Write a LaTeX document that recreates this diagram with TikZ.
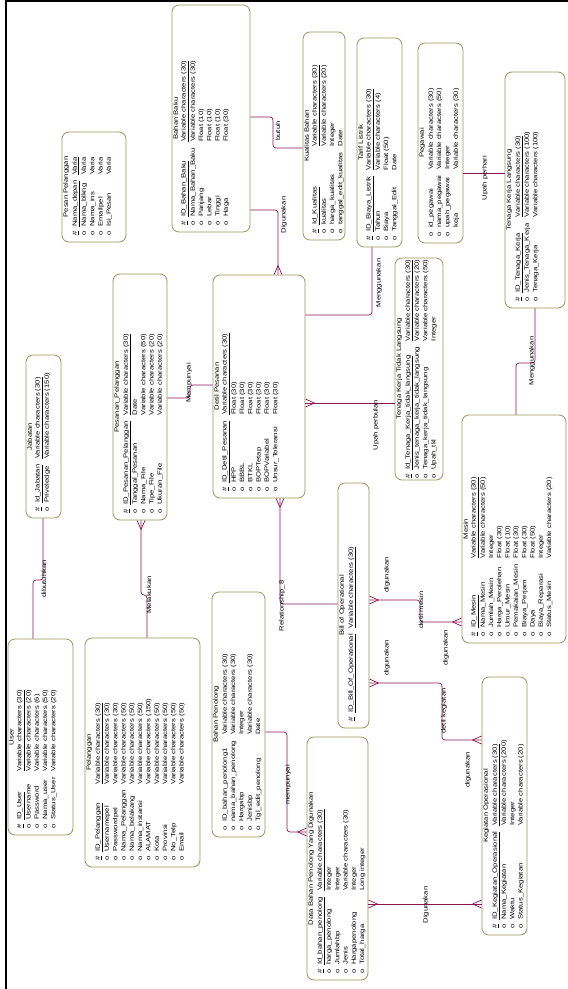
\documentclass[tikz,border=0pt]{standalone}
\usepackage{fontspec}
\newfontfamily\erfont[FakeStretch=1.24]{Liberation Sans}
\definecolor{entline}{RGB}{150,150,90}
\definecolor{rellink}{RGB}{140,20,80}
\newcommand{\enthead}[1]{{\centering #1\par}\vspace{1pt}}
\newenvironment{attrs}{\begin{tabular}{@{}l@{\hspace{4pt}}l@{\hspace{6pt}}l@{}}}{\end{tabular}}
\newcommand{\pkattr}[2]{\underline{\#} & \underline{#1} & \underline{#2}\\}
\newcommand{\attr}[2]{o & #1 & #2\\}
\newcommand{\crowfoot}[2]{\draw[rel,shift={(#1)},rotate=#2] (-9pt,0pt) -- (0pt,4pt) (-9pt,0pt) -- (0pt,-4pt);}
\begin{document}
\begin{tikzpicture}[x=1pt,y=-1pt,
    entity/.style={draw=entline,line width=0.8pt,rounded corners=7pt,fill=white,inner sep=0pt},
    enttext/.style={rotate=90,anchor=north,inner xsep=0pt,inner ysep=1.5pt,font=\erfont\fontsize{6.2}{8.3}\selectfont},
    lbl/.style={rotate=90,inner sep=0pt,font=\erfont\fontsize{6.2}{8.3}\selectfont},
    rel/.style={draw=rellink,line width=0.7pt,rounded corners=3pt}]
                \useasboundingbox (0,0) rectangle (568,989);
                \draw[line width=2pt] (6,989) -- (6,1) -- (568,1);

                \node[entity,minimum width=78pt,minimum height=227pt] (bb) at (211,118.5) {};
                \node[enttext,text width=213pt] (bb-t) at (bb.west) {\enthead{Bahan Baku}\begin{attrs}
                \pkattr{ID\_Bahan\_Baku}{Variable characters (30)}
                \attr{Nama\_Bahan\_Baku}{Variable characters (30)}
                \attr{Panjang}{Float (10)}
                \attr{Lebar}{Float (10)}
                \attr{Tinggi}{Float (10)}
                \attr{Haga}{Float (30)}
                \end{attrs}};

                \node[entity,minimum width=42pt,minimum height=208pt] (kb) at (324,136) {};
                \node[enttext,text width=194pt] (kb-t) at (kb.west) {\enthead{Kualitas Bahan}\begin{attrs}
                \pkattr{Id\_Kualitas}{Variable characters (30)}
                \attr{kualitas}{Variable characters (20)}
                \attr{harga\_kualitas}{Integer}
                \attr{tanggal\_edit\_kualitas}{Date}
                \end{attrs}};

                \node[entity,minimum width=45pt,minimum height=209pt] (tl) at (379.5,142.5) {};
                \node[enttext,text width=195pt] (tl-t) at (tl.west) {\enthead{Tarif Listrik}\begin{attrs}
                \pkattr{ID\_Biaya\_Listrik}{Variable characters (30)}
                \attr{Tahun}{Variable characters (4)}
                \attr{Biaya}{Float (50)}
                \attr{Tanggal\_Edit}{Date}
                \end{attrs}};

                \node[entity,minimum width=45pt,minimum height=200pt] (pg) at (440.5,143) {};
                \node[enttext,text width=186pt] (pg-t) at (pg.west) {\enthead{Pegawai}\begin{attrs}
                \attr{id\_pegawai}{Variable characters (30)}
                \attr{nama\_pegawai}{Variable characters (50)}
                \attr{upah\_pegawai}{Integer}
                 & keja & Variable characters (30)\\
                \end{attrs}};

                \node[entity,minimum width=60pt,minimum height=236pt] (tkl) at (535,190) {};
                \node[enttext,text width=222pt] (tkl-t) at (tkl.west) {\enthead{Tenaga Kerja Langsung}\begin{attrs}
                \pkattr{ID\_Tenaga\_Kerja}{Variable characters (30)}
                \attr{Jenis\_Tenaga\_Kerja}{Variable characters (100)}
                \attr{Tenaga\_Kerja}{Variable characters (100)}
                \end{attrs}};

                \node[entity,minimum width=64pt,minimum height=110pt] (pp) at (94,187) {};
                \node[enttext,text width=96pt] (pp-t) at (pp.west) {\enthead{Pesan Pelanggan}\begin{attrs}
                \pkattr{Nama\_depan}{Varia}
                \attr{Nama\_blkng}{Varia}
                \attr{Nama\_ins}{Varia}
                \attr{Emailpel}{Varia}
                \attr{Isi\_Pesan}{Varia}
                \end{attrs}};

                \node[entity,minimum width=35pt,minimum height=163pt] (jb) at (43.5,436.5) {};
                \node[enttext,text width=149pt] (jb-t) at (jb.west) {\enthead{Jabatan}\begin{attrs}
                \pkattr{Id\_Jabatan}{Variable characters (30)}
                \attr{Priveledge}{Variable characters (150)}
                \end{attrs}};

                \node[entity,minimum width=54pt,minimum height=246pt] (psn) at (140,397) {};
                \node[enttext,text width=232pt] (psn-t) at (psn.west) {\enthead{Pesanan\_Pelanggan}\begin{attrs}
                \pkattr{ID\_Pesanan\_Pelanggan}{Variable characters (30)}
                \attr{Tanggal\_Pesanan}{Date}
                \attr{Nama\_File}{Variable characters (50)}
                \attr{Tipe\_File}{Variable characters (20)}
                \attr{Ukuran\_File}{Variable characters (20)}
                \end{attrs}};

                \node[entity,minimum width=92pt,minimum height=223pt] (dp) at (259,386.5) {};
                \node[enttext,text width=209pt] (dp-t) at (dp.west) {\enthead{Detil Pesanan}\begin{attrs}
                \pkattr{ID\_Detil\_Pesanan}{Variable characters (30)}
                \attr{HPP}{Float (30)}
                \attr{BBBL}{Float (30)}
                \attr{BTKL}{Float (30)}
                \attr{BOPTetap}{Float (30)}
                \attr{BOPVariabel}{Float (30)}
                \attr{Unsur\_Toleransi}{Float (30)}
                \end{attrs}};

                \node[entity,minimum width=48pt,minimum height=222pt] (tktl) at (419,369) {};
                \node[enttext,text width=218pt] (tktl-t) at (tktl.west) {\enthead{Tenaga Kerja Tidak Langsung}\begin{attrs}
                \pkattr{Id\_Tenaga\_Kerja\_tidak\_langsung}{Variable characters (30)}
                \attr{Jenis\_tenaga\_kerja\_tidak\_langsung}{Variable characters (20)}
                \attr{Tenaga\_kerja\_tidak\_langsung}{Variable characters (50)}
                \attr{Upah\_tkl}{Integer}
                \end{attrs}};

                \node[entity,minimum width=104pt,minimum height=228pt] (ms) at (514,529) {};
                \node[enttext,text width=214pt] (ms-t) at (ms.west) {\enthead{Mesin}\begin{attrs}
                \pkattr{ID\_Mesin}{Variable characters (30)}
                \attr{Nama\_Mesin}{Variable characters (50)}
                \attr{Jumlah\_Mesin}{Integer}
                \attr{Harga\_Perolehan}{Float (30)}
                \attr{Umur\_Mesin}{Float (10)}
                \attr{Pemakaian\_Mesin}{Float (30)}
                \attr{Biaya\_Perjam}{Float (30)}
                \attr{Daya}{Float (50)}
                \attr{Biaya\_Reparasi}{Integer}
                \attr{Status\_Mesin}{Variable characters (20)}
                \end{attrs}};

                \node[entity,minimum width=65pt,minimum height=196pt] (us) at (40.5,737) {};
                \node[enttext,text width=182pt] (us-t) at (us.west) {\enthead{User}\begin{attrs}
                \pkattr{ID\_User}{Variable characters (30)}
                \attr{Username}{Variable characters (20)}
                \attr{Password}{Variable characters (6)}
                \attr{Nama\_user}{Variable characters (50)}
                \attr{Status\_User}{Variable characters (20)}
                \end{attrs}};

                \node[entity,minimum width=115pt,minimum height=229pt] (pl) at (142.5,752.5) {};
                \node[enttext,text width=215pt] (pl-t) at (pl.west) {\enthead{Pelanggan}\begin{attrs}
                \pkattr{ID\_Pelanggan}{Variable characters (30)}
                \attr{Usernamepel}{Variable characters (30)}
                \attr{Passwordpel}{Variable characters (30)}
                \attr{Nama\_Pelanggan}{Variable characters (50)}
                \attr{Nama\_belakang}{Variable characters (50)}
                \attr{Nama\_instansi}{Variable characters (50)}
                \attr{ALAMAT}{Variable characters (150)}
                \attr{Kota}{Variable characters (50)}
                \attr{Provinsi}{Variable characters (50)}
                \attr{No\_Telp}{Variable characters (50)}
                \attr{Email}{Variable characters (50)}
                \end{attrs}};

                \node[entity,minimum width=31pt,minimum height=245pt] (bo) at (353.5,605.5) {};
                \node[enttext,text width=231pt] (bo-t) at (bo.west) {\enthead{Bill of Operational}\begin{attrs}
                \pkattr{ID\_Bill\_Of\_Operational}{Variable characters (30)}
                \end{attrs}};

                \node[entity,minimum width=53pt,minimum height=245pt] (bp) at (238.5,714.5) {};
                \node[enttext,text width=231pt] (bp-t) at (bp.west) {\enthead{Bahan Penolong}\begin{attrs}
                \attr{ID\_bahan\_penolong1}{Variable characters (30)}
                \attr{nama\_bahan\_penolong}{Variable characters (30)}
                \attr{Hargabp}{Integer}
                \attr{Jenisbp}{Variable characters (30)}
                \attr{Tgl\_edit\_penolong}{Date}
                \end{attrs}};

                \node[entity,minimum width=61pt,minimum height=243pt] (dbp) at (337.5,858.5) {};
                \node[enttext,text width=229pt] (dbp-t) at (dbp.west) {\enthead{Data Bahan Penolong Yang Digunakan}\begin{attrs}
                \pkattr{Id\_bahan\_penolong}{Variable characters (30)}
                \attr{harga\_penolong}{Integer}
                \attr{Jumlahbp}{Integer}
                \attr{Jenis}{Variable characters (30)}
                \attr{Hargapenolong}{Integer}
                \attr{Total\_harga}{Long integer}
                \end{attrs}};

                \node[entity,minimum width=45pt,minimum height=258pt] (ko) at (504.5,806) {};
                \node[enttext,text width=244pt] (ko-t) at (ko.west) {\enthead{Kegiatan Operasional}\begin{attrs}
                \pkattr{ID\_Kegiatan\_Operasional}{Variable characters (30)}
                \attr{Nama\_Kegiatan}{Variable characters (200)}
                \attr{Waktu}{Integer}
                \attr{Status\_Kegiatan}{Variable characters (20)}
                \end{attrs}};

                \draw[rel] (bb.east |- 0,117) -| (273,148) -- (kb.west |- 0,148);
                \draw[rel] (bb.east |- 0,210) -| (278,0 |- dp.north);
                \draw[rel] (psn.east |- 0,398) -| (190,385) -- (dp.west |- 0,385);
                \draw[rel] (psn.south -| 141,0) |- (147,595) -- (147,0 |- pl.north);
                \draw[rel] (jb.south -| 43,0) |- (33,580) -- (33,0 |- us.north);
                \draw[rel] (tl.south -| 372,0) |- (dp.east |- 0,315);
                \draw[rel] (tktl.west |- 0,403) -- (dp.east |- 0,403);
                \draw[rel] (pg.east |- 0,173) -- (tkl.west |- 0,173);
                \draw[rel] (tkl.south -| 535,0) |- (516,363) -- (516,0 |- ms.north);
                \draw[rel] (dp.south -| 280,0) |- (bo.west |- 0,604);
                \draw[rel] (bo.east |- 0,600) -| (420,622) -- (ms.west |- 0,622);
                \draw[rel] (bo.east |- 0,683) -| (442,740) -- (ko.west |- 0,740);
                \draw[rel] (bp.east |- 0,732) -| (287,832) -- (dbp.west |- 0,832);
                \draw[rel] (dbp.east |- 0,904) -- (ko.west |- 0,904);

                \crowfoot{278,0 |- dp.north}{-90}
                \crowfoot{psn.south -| 141,0}{90}
                \crowfoot{dp.east |- 0,403}{180}
                \crowfoot{dp.south -| 280,0}{90}
                \crowfoot{bo.east |- 0,600}{180}
                \crowfoot{ms.west |- 0,622}{0}
                \crowfoot{bo.east |- 0,683}{180}
                \crowfoot{ko.west |- 0,740}{0}
                \crowfoot{dbp.west |- 0,832}{0}
                \crowfoot{dbp.east |- 0,904}{180}
                \crowfoot{ko.west |- 0,904}{0}

                \node[lbl] (l-butuh) at (278,131) {butuh};
                \node[lbl] (l-digunakan1) at (284,215) {Digunakan};
                \node[lbl] (l-mempunyai1) at (189,383) {Mempunyai};
                \node[lbl] (l-melakukan) at (149,595) {Melakukan};
                \node[lbl] (l-dibutuhkan) at (44,579) {dibutuhkan};
                \node[lbl] (l-menggunakan1) at (379,283) {Menggunakan};
                \node[lbl] (l-upahbulan) at (376,425) {Upah perbulan};
                \node[lbl] (l-upahhari) at (485,178) {Upah perhari};
                \node[lbl] (l-menggunakan2) at (532,361) {Menggunakan};
                \node[lbl] (l-rel8) at (282,606) {Relationship\_8};
                \node[lbl] (l-guna1) at (387,575) {digunakan};
                \node[lbl] (l-detmesin) at (421,610) {detil mesin};
                \node[lbl] (l-guna2) at (446,648) {digunakan};
                \node[lbl] (l-guna3) at (387,658) {digunakan};
                \node[lbl] (l-detkeg) at (444,711) {detil kegiatan};
                \node[lbl] (l-guna4) at (468,770) {digunakan};
                \node[lbl] (l-mempunyai2) at (288,785) {mempunyai};
                \node[lbl] (l-digunakan2) at (426,905) {Digunakan};
            \end{tikzpicture}
\end{document}
